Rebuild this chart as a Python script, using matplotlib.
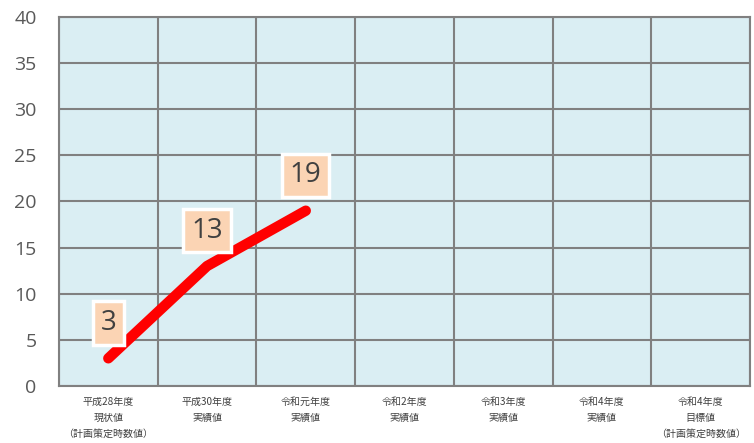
import numpy as np
import matplotlib.pyplot as plt

plt.rcParams['font.family'] = ['Noto Sans CJK JP', 'DejaVu Sans']

# 年度ごとのカテゴリ
categories = ['平成28年度\n現状値\n（計画策定時数値）',
              '平成30年度\n実績値',
              '令和元年度\n実績値',
              '令和2年度\n実績値',
              '令和3年度\n実績値',
              '令和4年度\n実績値',
              '令和4年度\n目標値\n（計画策定時数値）']
values = [3, 13, 19]

fig = plt.figure(figsize=(7.54, 4.43), dpi=100)
ax = fig.add_axes([0.0782, 0.1287, 0.9165, 0.833])
ax.set_facecolor('#DAEEF3')

n = len(categories)
x = np.arange(len(values))

ax.plot(x, values, color='#FF0000', lw=7.5, solid_capstyle='round',
        solid_joinstyle='round', zorder=3)

# 値ラベル（薄いオレンジの箱）
for xi, v in zip(x, values):
    ax.annotate(str(v), (xi, v), xytext=(0, 28), textcoords='offset points',
                ha='center', va='center_baseline', fontsize=20, color='#404040',
                family=['Open Sans', 'DejaVu Sans'],
                bbox=dict(boxstyle='square,pad=0.28', fc='#FBD4B4',
                          ec='white', lw=2.5), zorder=4)

ax.set_xlim(-0.5, n - 0.5)
ax.set_ylim(0, 40)
ax.set_yticks(np.arange(0, 41, 5))
ax.set_xticks(np.arange(n))
ax.set_xticklabels(categories, fontsize=7.2, color='#404040', linespacing=1.75)
ax.set_xticks(np.arange(n + 1) - 0.5, minor=True)

ax.tick_params(axis='y', length=0, labelsize=14, labelcolor='#595959', pad=16)
ax.tick_params(axis='x', which='both', length=0, pad=8)
for lab in ax.get_yticklabels():
    lab.set_family(['Open Sans', 'DejaVu Sans'])

ax.grid(axis='y', which='major', color='#808080', lw=1.5)
ax.grid(axis='x', which='minor', color='#808080', lw=1.5)
ax.set_axisbelow(True)
for s in ax.spines.values():
    s.set_color('#808080')
    s.set_linewidth(1.5)

fig.savefig('out.png', dpi=100)
